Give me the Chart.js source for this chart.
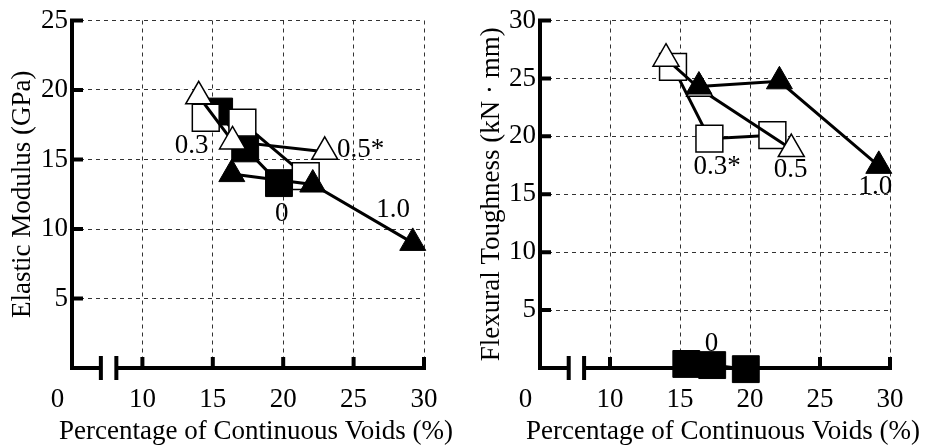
<!DOCTYPE html>
<html>
<head>
<meta charset="utf-8">
<script src="https://cdn.jsdelivr.net/npm/chart.js@4.4.1/dist/chart.umd.min.js"></script>
<style>
  html, body { margin: 0; padding: 0; background: #fff; }
  #wrap { position: relative; width: 932px; height: 448px; }
  .panel { position: absolute; top: 0; width: 466px; height: 448px; }
</style>
</head>
<body>
<div id="wrap">
  <div class="panel" style="left:0"><canvas id="modulus-chart" width="466" height="448"></canvas></div>
  <div class="panel" style="left:466px"><canvas id="toughness-chart" width="466" height="448"></canvas></div>
</div>
<script>
// Percentage of continuous voids (%) for each fibre series
const voidsFibre0 = [15.45, 17.3, 19.7];    // 0   - filled square
const voidsFibre03 = [14.5, 17.1, 21.6];    // 0.3 - open square
const voidsFibre05 = [14.0, 16.4, 22.95];   // 0.5 - open triangle
const voidsFibre10 = [16.35, 22.1, 29.2];   // 1.0 - filled triangle

// Elastic modulus (GPa)
const modulusFibre0 = [18.45, 15.8, 13.3];
const modulusFibre03 = [18.0, 17.65, 13.8];
const modulusFibre05 = [19.55, 16.3, 15.55];
const modulusFibre10 = [13.95, 13.2, 9.0];

// Flexural toughness (kN·mm)
const toughFibre0 = [0.35, 0.25, -0.1];
const toughFibre03 = [26.0, 19.8, 20.1];
const toughFibre05 = [26.7, 24.1, 18.9];
const toughFibre10 = [24.3, 24.75, 17.45];

// axis ticks
const xTicks = [10, 15, 20, 25, 30];
const modulusTicks = [5, 10, 15, 20, 25];
const toughTicks = [5, 10, 15, 20, 25, 30];

// series notes written next to the points
const modulusNotes = ['0.3', '0.5*', '0', '1.0'];
const modulusNoteX = [13.5, 25.5, 19.9, 27.8];
const modulusNoteY = [16.0, 15.7, 11.1, 11.4];
const toughNotes = ['0.3*', '0.5', '1.0', '0'];
const toughNoteX = [17.65, 22.9, 28.95, 17.25];
const toughNoteY = [17.35, 17.1, 15.65, 2.1];

const X_TITLE = 'Percentage of Continuous Voids (%)';
const FONT = "'Liberation Serif', 'Times New Roman', Times, serif";
const FONT_SIZE = 27;
const TICK_PAD = 16;
const BREAK_AT = [7.05, 8.15];

Chart.defaults.font.family = FONT;
Chart.defaults.font.size = FONT_SIZE;
Chart.defaults.color = '#000';

function pts(xs, ys) { return xs.map((x, i) => ({ x, y: ys[i] })); }

function makeDatasets(y0, y03, y05, y10) {
  const base = { borderColor: '#000', borderWidth: 3, pointBorderColor: '#000', tension: 0, fill: false, clip: false };
  // first dataset is drawn on top
  return [
    { ...base, label: '1.0', data: pts(voidsFibre10, y10), pointStyle: 'triangle', pointRadius: 15, pointBackgroundColor: '#000', pointBorderWidth: 1 },
    { ...base, label: '0.5', data: pts(voidsFibre05, y05), pointStyle: 'triangle', pointRadius: 15, pointBackgroundColor: '#fff', pointBorderWidth: 1.5 },
    { ...base, label: '0.3', data: pts(voidsFibre03, y03), pointStyle: 'rect', pointRadius: 19, pointBackgroundColor: '#fff', pointBorderWidth: 1.5 },
    { ...base, label: '0', data: pts(voidsFibre0, y0), pointStyle: 'rect', pointRadius: 19, pointBackgroundColor: '#000', pointBorderWidth: 1 }
  ];
}

// thick axes with inward ticks and a break on the x axis
const framePlugin = {
  id: 'frame',
  beforeDatasetsDraw(chart) {
    const { ctx, chartArea: a } = chart;
    const xs = chart.scales.x, ys = chart.scales.y;
    const y0 = ys.getPixelForValue(0);
    const b1 = xs.getPixelForValue(BREAK_AT[0]);
    const b2 = xs.getPixelForValue(BREAK_AT[1]);
    ctx.save();
    ctx.strokeStyle = '#000';
    ctx.lineWidth = 4;
    ctx.beginPath();
    ctx.moveTo(a.left, a.top - 2);
    ctx.lineTo(a.left, y0 + 2);
    ctx.moveTo(a.left - 2, y0);
    ctx.lineTo(b1, y0);
    ctx.moveTo(b2, y0);
    ctx.lineTo(a.right + 2, y0);
    ctx.moveTo(b1, y0 - 12); ctx.lineTo(b1, y0 + 12);
    ctx.moveTo(b2, y0 - 12); ctx.lineTo(b2, y0 + 12);
    ys.ticks.forEach(t => {
      if (t.value <= 0) return;
      const p = ys.getPixelForValue(t.value);
      ctx.moveTo(a.left, p); ctx.lineTo(a.left + 11, p);
    });
    xs.ticks.forEach(t => {
      if (t.value < 10) return;
      const p = xs.getPixelForValue(t.value);
      ctx.moveTo(p, y0); ctx.lineTo(p, y0 - 11);
    });
    ctx.stroke();
    ctx.fillStyle = '#000';
    ctx.font = FONT_SIZE + 'px ' + FONT;
    ctx.textAlign = 'center';
    ctx.textBaseline = 'middle';
    // origin label sits left of the axis break
    ctx.fillText('0', a.left - 14.5, a.bottom + TICK_PAD + FONT_SIZE * 0.6);
    // x title, drawn here so it is not squeezed to the plot width
    ctx.fillText(X_TITLE, (a.left + a.right) / 2 + 8, chart.height - FONT_SIZE * 0.6);
    ctx.restore();
  }
};

function notesPlugin(texts, nx, ny) {
  return {
    id: 'notes',
    afterDatasetsDraw(chart) {
      const { ctx } = chart;
      const xs = chart.scales.x, ys = chart.scales.y;
      ctx.save();
      ctx.fillStyle = '#000';
      ctx.font = FONT_SIZE + 'px ' + FONT;
      ctx.textAlign = 'center';
      ctx.textBaseline = 'middle';
      texts.forEach((t, i) => ctx.fillText(t, xs.getPixelForValue(nx[i]), ys.getPixelForValue(ny[i])));
      ctx.restore();
    }
  };
}

function makeChart(id, datasets, yMax, yTicks, yTitle, yWidth, yTitlePad, notes) {
  const gridColor = skip => c => (c.tick.value === skip ? 'rgba(0,0,0,0)' : '#333');
  return new Chart(document.getElementById(id), {
    type: 'line',
    data: { datasets },
    plugins: [framePlugin, notes],
    options: {
      responsive: false,
      animation: false,
      events: [],
      layout: { padding: { left: 0, right: 42, top: 17, bottom: 0 } },
      plugins: { legend: { display: false }, tooltip: { enabled: false } },
      scales: {
        x: {
          type: 'linear',
          min: 5,
          max: 30,
          afterBuildTicks: s => { s.ticks = [5, ...xTicks].map(v => ({ value: v })); },
          afterFit: s => { s.height = 80; },
          ticks: { padding: TICK_PAD, maxRotation: 0, callback: v => (v === 5 ? '' : v) },
          grid: { color: gridColor(5), lineWidth: 1, drawTicks: false },
          border: { display: false, dash: [4, 4] },
          title: { display: false }
        },
        y: {
          min: 0,
          max: yMax,
          afterBuildTicks: s => { s.ticks = [0, ...yTicks].map(v => ({ value: v })); },
          afterFit: s => { s.width = yWidth; },
          ticks: { padding: 4, callback: v => (v === 0 ? '' : v) },
          grid: { color: gridColor(0), lineWidth: 1, drawTicks: false },
          border: { display: false, dash: [4, 4] },
          title: { display: true, text: yTitle, padding: { top: yTitlePad, bottom: 0 } }
        }
      }
    }
  });
}

makeChart('modulus-chart',
  makeDatasets(modulusFibre0, modulusFibre03, modulusFibre05, modulusFibre10),
  25, modulusTicks, 'Elastic Modulus (GPa)', 72, 7,
  notesPlugin(modulusNotes, modulusNoteX, modulusNoteY));

makeChart('toughness-chart',
  makeDatasets(toughFibre0, toughFibre03, toughFibre05, toughFibre10),
  30, toughTicks, 'Flexural Toughness (kN · mm)', 74, 10,
  notesPlugin(toughNotes, toughNoteX, toughNoteY));
</script>
</body>
</html>
